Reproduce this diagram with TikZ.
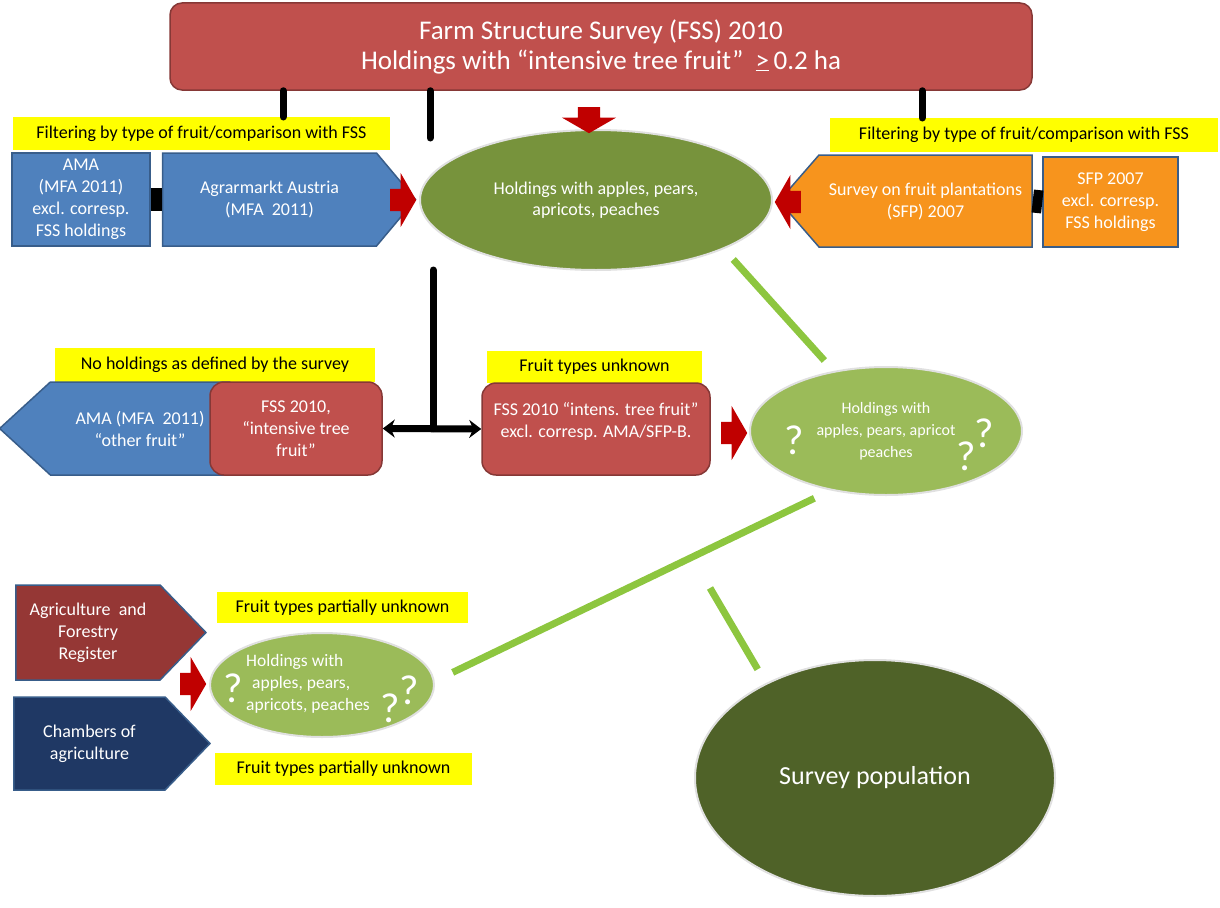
\documentclass[tikz,border=0pt]{standalone}
\usepackage{fontspec}
\setmainfont{Carlito}
\usetikzlibrary{positioning,arrows.meta,shapes.geometric,shapes.symbols,shapes.arrows}

\definecolor{boxred}{HTML}{C0504D}
\definecolor{boxblue}{HTML}{4F81BD}
\definecolor{boxorange}{HTML}{F7941D}
\definecolor{regred}{HTML}{953735}
\definecolor{chamblue}{HTML}{1F3864}
\definecolor{edgeblue}{HTML}{385D8A}
\definecolor{arrowred}{HTML}{C00000}
\definecolor{ovalgreen}{HTML}{77933C}
\definecolor{ovallight}{HTML}{9BBB59}
\definecolor{ovaldark}{HTML}{4F6228}
\definecolor{linegreen}{HTML}{8DC63F}
\definecolor{tagyellow}{HTML}{FFFF00}

\begin{document}
\begin{tikzpicture}[x=1pt, y=-1pt,
  txt/.style={font=\fontsize{18}{22}\selectfont},
  tag/.style={fill=tagyellow, inner sep=0pt, font=\fontsize{18}{21}\selectfont},
  srcbox/.style={draw=edgeblue, line width=1.5pt, fill=#1, text=white, align=center, inner sep=0pt, txt},
  fssbox/.style={draw=boxred!70!black, line width=1.5pt, fill=boxred, rounded corners=14pt, text=white, align=center, inner sep=0pt, txt},
  pointer/.style={signal, signal to=#1, signal from=nowhere, draw=edgeblue, line width=1.5pt, text=white, align=center, inner sep=0pt, txt},
  oval/.style={ellipse, fill=#1, draw=black!12, line width=2pt, text=white, align=center, inner sep=0pt},
  fatarrow/.style={single arrow, fill=arrowred, inner xsep=0pt, inner ysep=11pt, minimum width=54pt, single arrow head extend=16pt, minimum height=26pt, single arrow tip angle=120},
  stem/.style={line width=7pt, line cap=round},
  gline/.style={linegreen, line width=7pt},
  qmark/.style={text=white, font=\fontsize{42}{42}\selectfont, inner sep=0pt}
]
  \useasboundingbox (0,0) rectangle (1220,907);

  % top row
  \node[fssbox, rounded corners=12pt, minimum width=862pt, minimum height=87pt, font=\fontsize{27}{30}\selectfont] (fss) at (601,46.5) {Farm Structure Survey (FSS) 2010\\Holdings with “intensive tree fruit”\ \ \underline{>}\,0.2 ha};
  \node[tag, minimum width=377pt, minimum height=33pt] (lfilt) at (201.5,133.5) {Filtering by type of fruit/comparison with FSS};
  \node[tag, minimum width=388pt, minimum height=34pt] (rfilt) at (1024,135) {Filtering by type of fruit/comparison with FSS};

  \node[srcbox=boxblue, minimum width=138pt, minimum height=93pt] (ama) at (81,199.5) {AMA\\(MFA 2011)\\excl. corresp.\\FSS holdings};
  \node[pointer=east, fill=boxblue, signal pointer angle=100, minimum width=253pt, minimum height=93pt] (agrar) at (269.5,199.5) {Agrarmarkt Austria\\(MFA\ \ 2011)};
  \node[oval=ovalgreen, minimum width=352pt, minimum height=140pt, font=\fontsize{18}{21}\selectfont] (holdtop) at (596,200) {Holdings with apples, pears,\\apricots, peaches};
  \node[pointer=west, fill=boxorange, signal pointer angle=98, minimum width=253pt, minimum height=92pt] (sfp) at (925.5,201) {Survey on fruit plantations\\(SFP) 2007};
  \node[srcbox=boxorange, minimum width=135pt, minimum height=90pt] (sfpx) at (1110.5,202) {SFP 2007\\excl. corresp.\\FSS holdings};

  \node[fatarrow, rotate=-90] (adown) at (589,117) {};
  \node[fatarrow] (aleft) at (400,200) {};
  \node[fatarrow, rotate=180] (aright) at (791,202) {};

  \coordinate (s1) at (283,117);
  \coordinate (s2) at (430,138);
  \coordinate (s3) at (922,118);
  \draw[stem] (fss.south -| s1) -- (s1);
  \draw[stem] (fss.south -| s2) -- (s2);
  \draw[stem] (fss.south -| s3) -- (s3);
  \draw[line width=23pt] (ama.east) -- (agrar.west);
  \draw[line width=23pt] (sfp.east) -- (sfpx.west);

  % middle row
  \node[tag, minimum width=320pt, minimum height=34pt] (noh) at (215,365) {No holdings as defined by the survey};
  \node[pointer=west, fill=boxblue, signal pointer angle=85, minimum width=230pt, minimum height=93pt] (amaoth) at (140,428.5) {AMA (MFA\ \ 2011)\\“other fruit”};
  \node[fssbox, minimum width=172pt, minimum height=93pt] (fssl) at (296,428.5) {FSS 2010,\\“intensive tree\\fruit”};
  \node[tag, minimum width=215pt, minimum height=32pt] (unk) at (594.5,367) {Fruit types unknown};
  \node[fssbox, minimum width=228pt, minimum height=92pt] (fssr) at (596,429) {};
  \node[txt, text=white, align=center] (fssrtext) at (596,421) {FSS 2010 “intens. tree fruit”\\excl. corresp. AMA/SFP-B.};
  \node[fatarrow] (amid) at (731,433) {};
  \node[oval=ovallight, minimum width=272pt, minimum height=128pt, font=\fontsize{16}{22}\selectfont] (holdmid) at (886,431) {Holdings with\\apples, pears, apricot\\peaches};
  \node[qmark] (q1) at (794,440) {?};
  \node[qmark] (q2) at (984,433) {?};
  \node[qmark] (q3) at (966,456) {?};

  \coordinate (tee) at (433,270);
  \draw[stem] (tee) -- (tee |- fssl.east);
  \draw[line width=7pt, {Stealth[length=12pt,width=18pt]}-{Stealth[length=12pt,width=18pt]}] (fssl.east) -- (fssr.west);

  % bottom row
  \node[pointer=east, fill=regred, signal pointer angle=92, minimum width=190pt, minimum height=95pt] (agri) at (88,632.5) {Agriculture\ \ and\\Forestry\\Register};
  \node[pointer=east, fill=chamblue, signal pointer angle=92, minimum width=196pt, minimum height=93pt] (cham) at (89.5,743.5) {Chambers of\\agriculture};
  \node[tag, minimum width=251pt, minimum height=31pt] (part1) at (342.5,607.5) {Fruit types partially unknown};
  \node[tag, minimum width=257pt, minimum height=32pt] (part2) at (343.5,769) {Fruit types partially unknown};
  \node[fatarrow] (alow) at (190,684) {};
  \node[oval=ovallight, minimum width=224pt, minimum height=104pt] (holdlow) at (322,685) {};
  \node[anchor=west, text=white, align=left, inner sep=0pt, font=\fontsize{17.5}{22}\selectfont] (holdlowtext) at (246,684) {Holdings with\\\hspace*{6pt}apples, pears,\\apricots, peaches};
  \node[qmark] (q4) at (233,688) {?};
  \node[qmark] (q5) at (390,708) {?};
  \node[qmark] (q6) at (409,690) {?};

  \node[oval=ovaldark, minimum width=360pt, minimum height=236pt, font=\fontsize{26}{30}\selectfont] (surv) at (875,778) {Survey population};

  % green links
  \coordinate (gfree) at (710,588);
  \draw[gline, shorten <=14pt, shorten >=14pt] (holdtop.-21) -- (holdmid.131);
  \draw[gline, shorten <=18pt, shorten >=20pt] (holdmid.227) -- (holdlow.2);
  \draw[gline, shorten >=16pt] (gfree) -- (surv.139);
\end{tikzpicture}
\end{document}
